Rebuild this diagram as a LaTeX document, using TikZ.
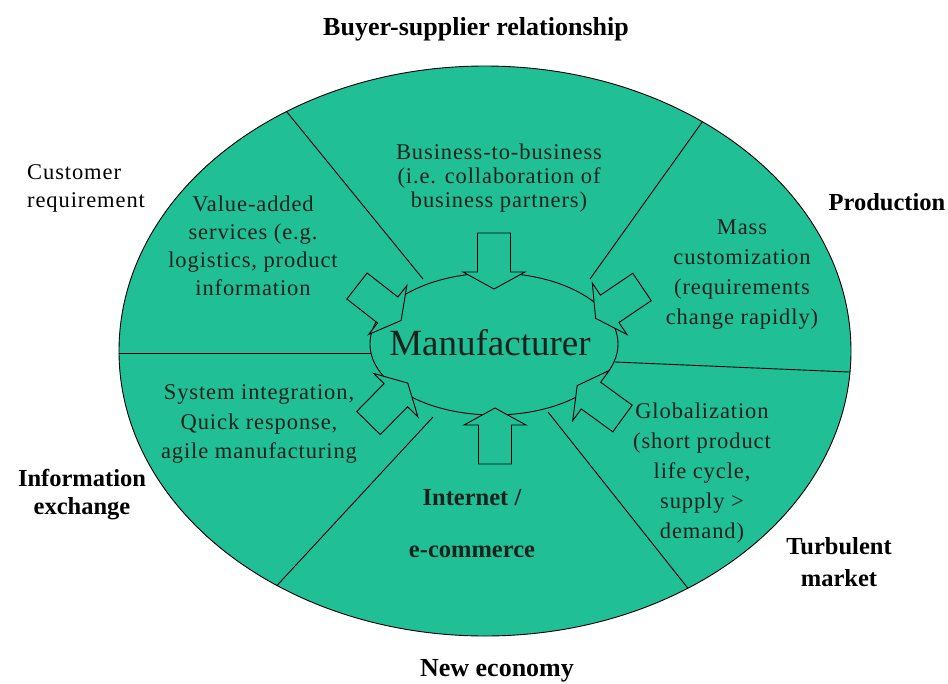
\documentclass[tikz,border=0pt]{standalone}
\usepackage{fontspec}
\setmainfont{Liberation Serif}
\newfontfamily\spacedserif[LetterSpace=4]{Liberation Serif}
\definecolor{disc}{RGB}{33,191,150}
\definecolor{ink}{RGB}{20,34,29}
\tikzset{
  innertext/.style={font=\spacedserif\fontsize{22.5}{#1}\selectfont, text=ink, align=center, inner sep=0pt},
  innertext/.default=29,
  outerlbl/.style={font=\fontsize{24.5}{#1}\selectfont\bfseries, align=center, inner sep=0pt},
  outerlbl/.default=28,
  biglbl/.style={font=\fontsize{26}{30}\selectfont\bfseries, align=center, inner sep=0pt},
  divider/.style={line width=0.9pt, draw=black},
  outline/.style={line width=0.9pt, draw=black, fill=disc},
  pics/blockarrow/.style={code={
    \draw[outline, line join=miter] (0,-16.5) -- (39,-16.5) -- (39,-31) -- (56,0)
      -- (39,31) -- (39,16.5) -- (0,16.5) -- cycle;}}
}
\begin{document}
\begin{tikzpicture}[x=1pt,y=-1pt]
\useasboundingbox (0,0) rectangle (948,683);

% outer disc
\draw[outline] (485,351) ellipse [x radius=366pt, y radius=285pt];

% dividing lines
\coordinate (ulIn) at (423,279);  \coordinate (ulOut) at (269,90);
\coordinate (urIn) at (590,279);  \coordinate (urOut) at (716.5,102);
\coordinate (llIn) at (433,417);  \coordinate (llOut) at (259.4,604.5);
\coordinate (lrIn) at (548,412);  \coordinate (lrOut) at (702,606);
\coordinate (lIn) at (372,353);   \coordinate (lOut) at (100,353);
\coordinate (rIn) at (615,362);   \coordinate (rOut) at (870,372.9);
\begin{scope}
  \clip (485,351) ellipse [x radius=366pt, y radius=285pt];
  \draw[divider] (ulIn) -- (ulOut);
  \draw[divider] (urIn) -- (urOut);
  \draw[divider] (llIn) -- (llOut);
  \draw[divider] (lrIn) -- (lrOut);
  \draw[divider] (lIn) -- (lOut);
  \draw[divider] (rIn) -- (rOut);
\end{scope}

% central ellipse
\draw[outline] (494,344) ellipse [x radius=124pt, y radius=71pt];

% block arrows pointing to the centre
\pic[shift={(494,233)}, rotate=-90] {blockarrow};
\pic[shift={(495,464)}, rotate=90] {blockarrow};
\pic[shift={(357,286)}, rotate=-38] {blockarrow};
\pic[shift={(642,287)}, rotate=-146] {blockarrow};
\pic[shift={(368.5,423)}, rotate=45.5] {blockarrow};
\pic[shift={(622.5,418.5)}, rotate=144] {blockarrow};

\node[font=\fontsize{37}{40}\selectfont, text=ink, inner sep=0pt] (manu) at (490,343) {Manufacturer};

% texts inside the disc
\node[innertext=24] (b2b) at (499,178) {Business-to-business\\(i.e. collaboration of\\business partners)};
\node[innertext=28] (vas) at (253,246) {Value-added\\services (e.g.\\logistics, product\\information};
\node[innertext=30] (mass) at (742,275) {Mass\\customization\\(requirements\\change rapidly)};
\node[innertext=29.5] (sys) at (259,424) {System integration,\\Quick response,\\agile manufacturing};
\node[innertext=30] (glob) at (702,473) {Globalization\\(short product\\life cycle,\\supply >\\demand)};
\node[outerlbl=52, text=ink] (inet) at (472,524) {Internet /\\e-commerce};

% labels outside the disc
\node[biglbl] (buyer) at (476,29) {Buyer-supplier relationship};
\node[innertext=28, text=black, align=left, anchor=west] (cust) at (27,188) {Customer\\requirement};
\node[outerlbl] (prod) at (887,202) {Production};
\node[outerlbl] (info) at (82,495) {Information\\exchange};
\node[outerlbl=32] (turb) at (839,562) {Turbulent\\market};
\node[biglbl] (newec) at (497,671) {New economy};
\end{tikzpicture}
\end{document}
